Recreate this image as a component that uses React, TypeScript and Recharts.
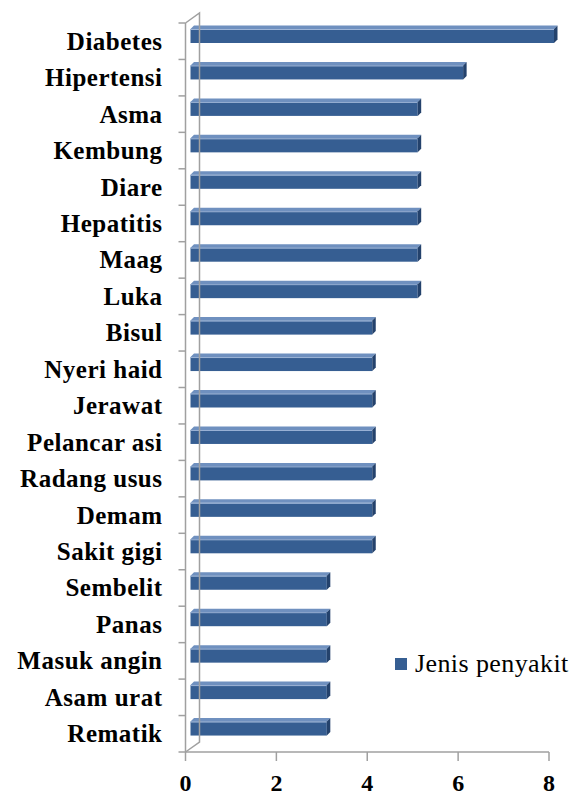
import { BarChart, Bar, XAxis, YAxis, Legend } from 'recharts';

const categories = [
  'Diabetes', 'Hipertensi', 'Asma', 'Kembung', 'Diare', 'Hepatitis', 'Maag', 'Luka',
  'Bisul', 'Nyeri haid', 'Jerawat', 'Pelancar asi', 'Radang usus', 'Demam', 'Sakit gigi',
  'Sembelit', 'Panas', 'Masuk angin', 'Asam urat', 'Rematik',
];
const values = [8, 6, 5, 5, 5, 5, 5, 5, 4, 4, 4, 4, 4, 4, 4, 3, 3, 3, 3, 3];
const xTicks = [0, 2, 4, 6, 8];
const seriesName = 'Jenis penyakit';

const data = categories.map((name, i) => ({ name, value: values[i] }));

const W = 578;
const H = 796;
const MARGIN = { top: 23, right: 29, left: 0, bottom: 0 };
const X_AXIS_H = 44;
const Y_AXIS_W = 185.5;
const BAND = (H - MARGIN.top - X_AXIS_H) / categories.length;

const FONT = 'Liberation Serif';
const AXIS = '#a0a0a0';
const FRONT = '#365e92';
const TOP = '#6f90bf';
const SIDE = '#24426c';
const WALL = 14; // depth of the 3D wall
const D = 3.5; // bar depth

function Bar3D(props: any) {
  const { x, y, width, height } = props;
  if (!width || width <= 0) return null;
  const x0 = x + 5;
  const y0 = y - 5;
  const x1 = x0 + width;
  return (
    <g>
      <rect x={x0} y={y0} width={width} height={height} fill={FRONT} />
      <line x1={x0} y1={y0 + 0.5} x2={x1} y2={y0 + 0.5} stroke="#9fb6d8" strokeWidth={1} />
      <polygon
        points={`${x0},${y0} ${x0 + D},${y0 - D} ${x1 + D},${y0 - D} ${x1},${y0}`}
        fill={TOP}
      />
      <polygon
        points={`${x1},${y0} ${x1 + D},${y0 - D} ${x1 + D},${y0 + height - D} ${x1},${y0 + height}`}
        fill={SIDE}
      />
    </g>
  );
}

function YTick(props: any) {
  const { x, y, payload, index } = props;
  const n = categories.length;
  const top = y - BAND / 2;
  const bottom = top + BAND * n;
  return (
    <g>
      <line x1={x - 7} y1={top} x2={x} y2={top} stroke={AXIS} strokeWidth={1.5} />
      {index === n - 1 && (
        <line x1={x - 7} y1={y + BAND / 2} x2={x} y2={y + BAND / 2} stroke={AXIS} strokeWidth={1.5} />
      )}
      {index === 0 && (
        <g stroke={AXIS} strokeWidth={1.5} fill="none">
          <polyline
            points={`${x},${top} ${x + WALL},${top - 10} ${x + WALL},${bottom - 10} ${x},${bottom}`}
          />
        </g>
      )}
      <text
        x={x - 23}
        y={y}
        dy="0.34em"
        textAnchor="end"
        style={{ fontFamily: FONT, fontWeight: 'bold', fontSize: 25, letterSpacing: 0.5 }}
        fill="#000"
      >
        {payload.value}
      </text>
    </g>
  );
}

function XTick(props: any) {
  const { x, y, payload } = props;
  return (
    <text
      x={x}
      y={y + 28}
      textAnchor="middle"
      style={{ fontFamily: FONT, fontWeight: 'bold', fontSize: 24 }}
      fill="#000"
    >
      {payload.value}
    </text>
  );
}

function LegendContent() {
  return (
    <div style={{ display: 'flex', alignItems: 'center', fontFamily: FONT, fontSize: 26, lineHeight: '28px', letterSpacing: 0.4 }}>
      <span style={{ display: 'inline-block', width: 12, height: 12, background: FRONT, marginRight: 8 }} />
      <span style={{ color: '#000' }}>{seriesName}</span>
    </div>
  );
}

export default function App() {
  return (
    <div style={{ position: 'absolute', left: 0, top: 0, width: W, height: H, background: '#fff' }}>
      <BarChart width={W} height={H} data={data} layout="vertical" margin={MARGIN}>
        <XAxis
          type="number"
          domain={[0, 8]}
          ticks={xTicks}
          height={X_AXIS_H}
          axisLine={{ stroke: AXIS, strokeWidth: 1.5 }}
          tickLine={{ stroke: AXIS, strokeWidth: 1.5 }}
          tickSize={9}
          tick={<XTick />}
        />
        <YAxis
          type="category"
          dataKey="name"
          width={Y_AXIS_W}
          axisLine={{ stroke: AXIS, strokeWidth: 1.5 }}
          tickLine={false}
          tickSize={0}
          tickMargin={0}
          interval={0}
          tick={<YTick />}
        />
        <Legend
          layout="horizontal"
          verticalAlign="middle"
          align="center"
          content={<LegendContent />}
          wrapperStyle={{ position: 'absolute', left: 395, top: 650, width: 'auto' }}
        />
        <Bar
          dataKey="value"
          name={seriesName}
          barSize={14}
          shape={<Bar3D />}
          isAnimationActive={false}
        />
      </BarChart>
    </div>
  );
}
